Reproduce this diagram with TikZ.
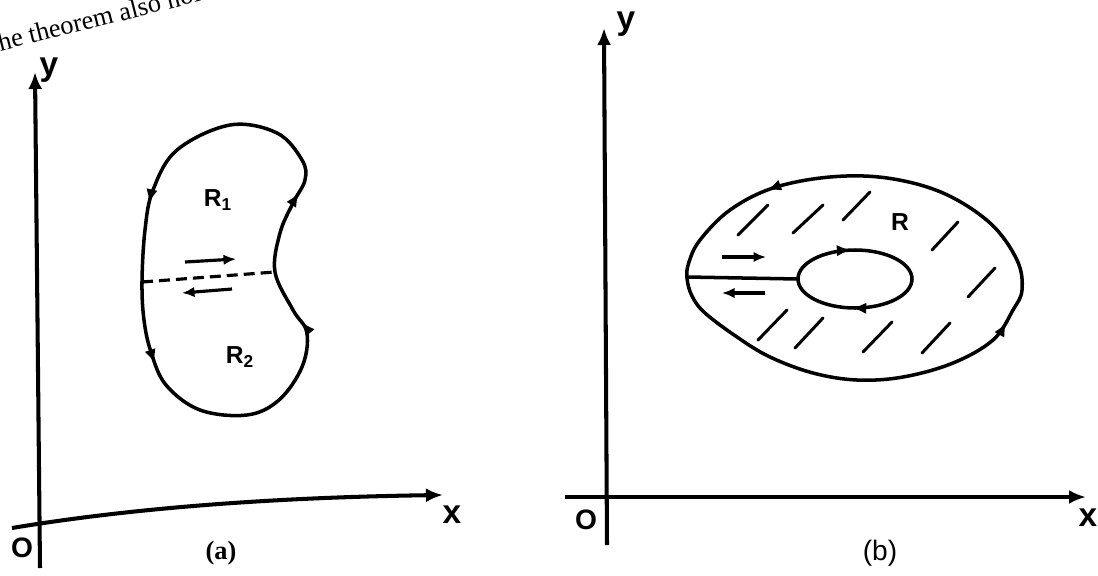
\documentclass[tikz,border=0pt]{standalone}
\usepackage{fontspec}
\setmainfont{Liberation Serif}
\setsansfont{Liberation Sans}
\usetikzlibrary{arrows.meta, decorations.markings}

\begin{document}
\begin{tikzpicture}[
        x=0.2mm, y=-0.2mm,
        >={Latex[length=2.8mm, width=2.3mm]},
        every node/.style={font=\sffamily\bfseries, inner sep=1pt},
        eje/.style={-{Latex[length=3.4mm, width=2.8mm]}, line width=2.3pt},
        borde/.style={line width=2pt},
        flecha/.style={-{Latex[length=2.5mm, width=2.1mm]}, line width=1.8pt},
        raya/.style={line width=1.7pt, line cap=round},
        corte/.style={line width=1.8pt, dash pattern=on 2.2mm off 1.2mm},
        rotulo/.style={font=\sffamily\bfseries\fontsize{19}{22}\selectfont, inner sep=0pt},
        origen/.style={font=\sffamily\bfseries\fontsize{16}{18}\selectfont},
        region/.style={font=\sffamily\bfseries\fontsize{14}{16}\selectfont},
        dos/.style 2 args={postaction={decorate, decoration={markings,
            mark=at position #1 with {\arrow{>}},
            mark=at position #2 with {\arrow{>}}}}},
        cuatro/.style n args={4}{postaction={decorate, decoration={markings,
            mark=at position #1 with {\arrow{>}},
            mark=at position #2 with {\arrow{>}},
            mark=at position #3 with {\arrow{>}},
            mark=at position #4 with {\arrow{>}}}}}
    ]
        \useasboundingbox (0,0) rectangle (1098,575);

% --- Page text ---
        \node[font=\rmfamily\fontsize{15}{18}\selectfont, rotate=14, anchor=base west, inner sep=0pt] (cabecera)
            at (-7,53) {the theorem also holds};

% --- (a): axes ---
        \coordinate (a_y0) at (40,568);
        \coordinate (a_y1) at (35,72);
        \coordinate (a_x0) at (12,528);
        \coordinate (a_x1) at (443,495);
        \draw[eje] (a_y0) -- (a_y1);
        \draw[eje] (a_x0) .. controls (150,505) and (300,497) .. (a_x1);

        \node[rotulo] (ya) at (49,70) {y};
        \node[rotulo] (xa) at (452,515) {x};
        \node[origen] (oa) at (22,548) {O};
        \node[font=\rmfamily\bfseries\fontsize{15}{18}\selectfont] (capa) at (221,553) {(a)};

% --- (a): region split in two ---
        \draw[borde, cuatro={0.078}{0.285}{0.59}{0.77}]
            plot[smooth cycle, tension=0.6] coordinates {(230,125) (177,150) (153,190) (145,230)
            (142,282) (144,320) (151,352) (166,385) (200,410) (247,415) (279,400) (302,367)
            (307,333) (293,310) (275,272) (280,233) (293,203) (305,180) (302,160) (277,133)};

        \coordinate (a_izq) at (142,282);
        \coordinate (a_der) at (275,272);
        \draw[corte] (a_izq) -- (a_der);

        \coordinate (a_f1) at (185,262);
        \coordinate (a_f2) at (236,259);
        \coordinate (a_f3) at (232,289);
        \coordinate (a_f4) at (182,293);
        \draw[flecha] (a_f1) -- (a_f2);
        \draw[flecha] (a_f3) -- (a_f4);

        \node[region] (r1) at (218,200) {R\textsubscript{1}};
        \node[region] (r2) at (240,357) {R\textsubscript{2}};

% --- (b): axes ---
        \coordinate (b_y0) at (607,545);
        \coordinate (b_y1) at (604,28);
        \coordinate (b_x0) at (565,497);
        \coordinate (b_x1) at (1086,497);
        \draw[eje] (b_y0) -- (b_y1);
        \draw[eje] (b_x0) -- (b_x1);

        \node[rotulo] (yb) at (626,24) {y};
        \node[rotulo] (xb) at (1088,518) {x};
        \node[origen] (ob) at (586,520) {O};
        \node[font=\sffamily\fontsize{16}{18}\selectfont] (capb) at (880,553) {(b)};

% --- (b): region with a hole ---
        \draw[borde, dos={0.42}{0.83}]
            plot[smooth cycle, tension=0.6] coordinates {(687,278) (692,296) (705,313) (737,337)
            (770,357) (813,373) (857,380) (903,377) (953,363) (993,340) (1013,310) (1022,290)
            (1017,260) (990,223) (943,193) (887,178) (830,177) (773,188) (730,210) (700,240) (689,262)};

        \draw[borde, dos={0.26}{0.735}] (855,279) ellipse [x radius=57, y radius=29];

        \coordinate (b_ext) at (687,277);
        \coordinate (b_int) at (798,279);
        \draw[borde] (b_ext) -- (b_int);

        \coordinate (b_f1) at (722,257);
        \coordinate (b_f2) at (766,257);
        \coordinate (b_f3) at (765,293);
        \coordinate (b_f4) at (722,293);
        \draw[flecha] (b_f1) -- (b_f2);
        \draw[flecha] (b_f3) -- (b_f4);

        \node[region] (rb) at (900,222) {R};

%--------- hatching -------------------
        \draw[raya] (738,235) -- (768,205)  (793,233) -- (823,205)  (843,220) -- (870,192)
            (932,250) -- (958,222)  (968,297) -- (995,268)  (758,340) -- (787,310)
            (795,348) -- (823,318)  (863,352) -- (892,322)  (922,353) -- (950,323);
    \end{tikzpicture}
\end{document}
